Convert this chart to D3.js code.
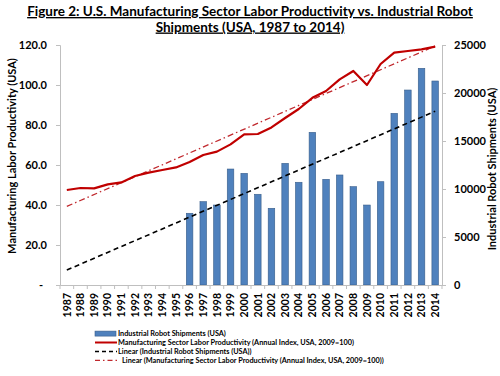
<!DOCTYPE html>
<html><head><meta charset="utf-8">
<script src="https://cdn.jsdelivr.net/npm/d3@7"></script>
<style>
body{margin:0;background:#fff;}
text{font-family:Lato,"Open Sans",sans-serif;font-weight:bold;fill:#000;}
</style></head>
<body><svg id="c" width="500" height="376"></svg>
<script>
const years = [1987,1988,1989,1990,1991,1992,1993,1994,1995,1996,1997,1998,1999,2000,2001,2002,2003,2004,2005,2006,2007,2008,2009,2010,2011,2012,2013,2014];
const robotShipments = [null,null,null,null,null,null,null,null,null,7470,8680,8330,12080,11630,9450,7990,12670,10700,15900,11010,11460,10240,8330,10760,17880,20310,22570,21250];
const productivity = [47.5,48.5,48.3,50.3,51.3,54.5,56.2,57.5,58.8,61.5,65,66.7,70.3,75.3,75.5,78.8,83.5,88,93.6,97,102.8,107,100,110.5,116.2,117,117.8,119.2];
const robotTrend = [1560,18100];      // linear trend at 1987 and 2014
const prodTrend = [39.3,119.5];       // linear trend at 1987 and 2014
const leftTicks = [0,20,40,60,80,100,120];
const rightTicks = [0,5000,10000,15000,20000,25000];
const legendLabels = ["Industrial Robot Shipments (USA)","Manufacturing Sector Labor Productivity (Annual Index, USA, 2009=100)","Linear (Industrial Robot Shipments (USA))","Linear (Manufacturing Sector Labor Productivity (Annual Index, USA, 2009=100))"];

const svg = d3.select("#c");
const L=60,R=442,T=45,B=285;
const x = d3.scaleBand().domain(years).range([L,R]).paddingInner(0.52).paddingOuter(0.26);
const xc = y => x(y)+x.bandwidth()/2;
const yL = d3.scaleLinear().domain([0,120]).range([B,T]);
const yR = d3.scaleLinear().domain([0,25000]).range([B,T]);
const axisCol="#bfbfbf";

// title
const title = svg.append("text").attr("text-anchor","middle").style("font-size","13.5px").attr("text-decoration","underline");
title.append("tspan").attr("x",250).attr("y",16).text("Figure 2: U.S. Manufacturing Sector Labor Productivity vs. Industrial Robot");
title.append("tspan").attr("x",250).attr("y",31.5).text("Shipments (USA, 1987 to 2014)");

// bars
svg.append("g").selectAll("rect").data(years.map((y,i)=>({y,v:robotShipments[i]})).filter(d=>d.v!=null))
 .join("rect").attr("x",d=>x(d.y)).attr("width",x.bandwidth()).attr("y",d=>yR(d.v)).attr("height",d=>B-yR(d.v))
 .attr("fill","#4f81bd").attr("stroke","#385d8a").attr("stroke-width",0.6);

// axes
const gl = svg.append("g").attr("transform",`translate(${L},0)`).call(d3.axisLeft(yL).tickValues(leftTicks).tickSize(4).tickFormat(d=>d===0?"-":d3.format(".1f")(d)).tickPadding(9));
const gr = svg.append("g").attr("transform",`translate(${R},0)`).call(d3.axisRight(yR).tickValues(rightTicks).tickSize(4).tickFormat(d3.format("d")).tickPadding(8));
[gl,gr].forEach(g=>{g.select(".domain").attr("stroke",axisCol);g.selectAll(".tick line").attr("stroke",axisCol);g.selectAll("text").style("font-size","11px").attr("font-family",null);});
gl.selectAll(".tick text").filter(d=>d===0).attr("dx",-4);
const gx = svg.append("g").attr("transform",`translate(0,${B})`).call(d3.axisBottom(x).tickSize(0).tickPadding(0));
gx.select(".domain").attr("stroke",axisCol);
gx.selectAll(".tick text").attr("transform","rotate(-90)").attr("text-anchor","end").attr("x",-8).attr("y",0).attr("dy","0.35em").style("font-size","10.5px").attr("font-family",null);
// boundary ticks
svg.append("g").selectAll("line").data(d3.range(years.length+1)).join("line")
 .attr("x1",i=>L+i*(R-L)/years.length).attr("x2",i=>L+i*(R-L)/years.length).attr("y1",B).attr("y2",B+4).attr("stroke",axisCol);

// trend lines
const y0=years[0], y1=years[years.length-1];
svg.append("line").attr("x1",xc(y0)).attr("x2",xc(y1)).attr("y1",yR(robotTrend[0])).attr("y2",yR(robotTrend[1]))
 .attr("stroke","#000").attr("stroke-width",1.6).attr("stroke-dasharray","5,3.5");
svg.append("line").attr("x1",xc(y0)).attr("x2",xc(y1)).attr("y1",yL(prodTrend[0])).attr("y2",yL(prodTrend[1]))
 .attr("stroke","#c0282d").attr("stroke-width",1.3).attr("stroke-dasharray","6,3,1.5,3");

// productivity line
svg.append("path").datum(years.map((y,i)=>[xc(y),yL(productivity[i])]))
 .attr("d",d3.line()).attr("fill","none").attr("stroke","#c00000").attr("stroke-width",2.2).attr("stroke-linejoin","round");

// axis titles
svg.append("text").attr("transform","translate(16,156) rotate(-90)").attr("text-anchor","middle").style("font-size","11px").text("Manufacturing Labor Productivity (USA)");
svg.append("text").attr("transform","translate(492,169) rotate(-90)").attr("text-anchor","middle").attr("dy","0.35em").style("font-size","11px").text("Industrial Robot Shipments (USA)");

// legend
const lg = svg.append("g");
const ly = [333.6,342.5,351.4,360.3];
lg.append("rect").attr("x",95).attr("y",ly[0]-2.5).attr("width",21).attr("height",5).attr("fill","#4f81bd").attr("stroke","#385d8a").attr("stroke-width",0.6);
lg.append("line").attr("x1",95).attr("x2",117).attr("y1",ly[1]).attr("y2",ly[1]).attr("stroke","#c00000").attr("stroke-width",2);
lg.append("line").attr("x1",95).attr("x2",117).attr("y1",ly[2]).attr("y2",ly[2]).attr("stroke","#000").attr("stroke-width",1.5).attr("stroke-dasharray","4,3");
lg.append("line").attr("x1",95).attr("x2",117).attr("y1",ly[3]).attr("y2",ly[3]).attr("stroke","#c0282d").attr("stroke-width",1.3).attr("stroke-dasharray","5,3,1.5,3");
lg.selectAll("text.lt").data(legendLabels).join("text").attr("class","lt").attr("x",(d,i)=>i===3?122:118).attr("y",(d,i)=>ly[i]).attr("dy","0.35em").style("font-size","7.3px").text(d=>d);
</script></body></html>
